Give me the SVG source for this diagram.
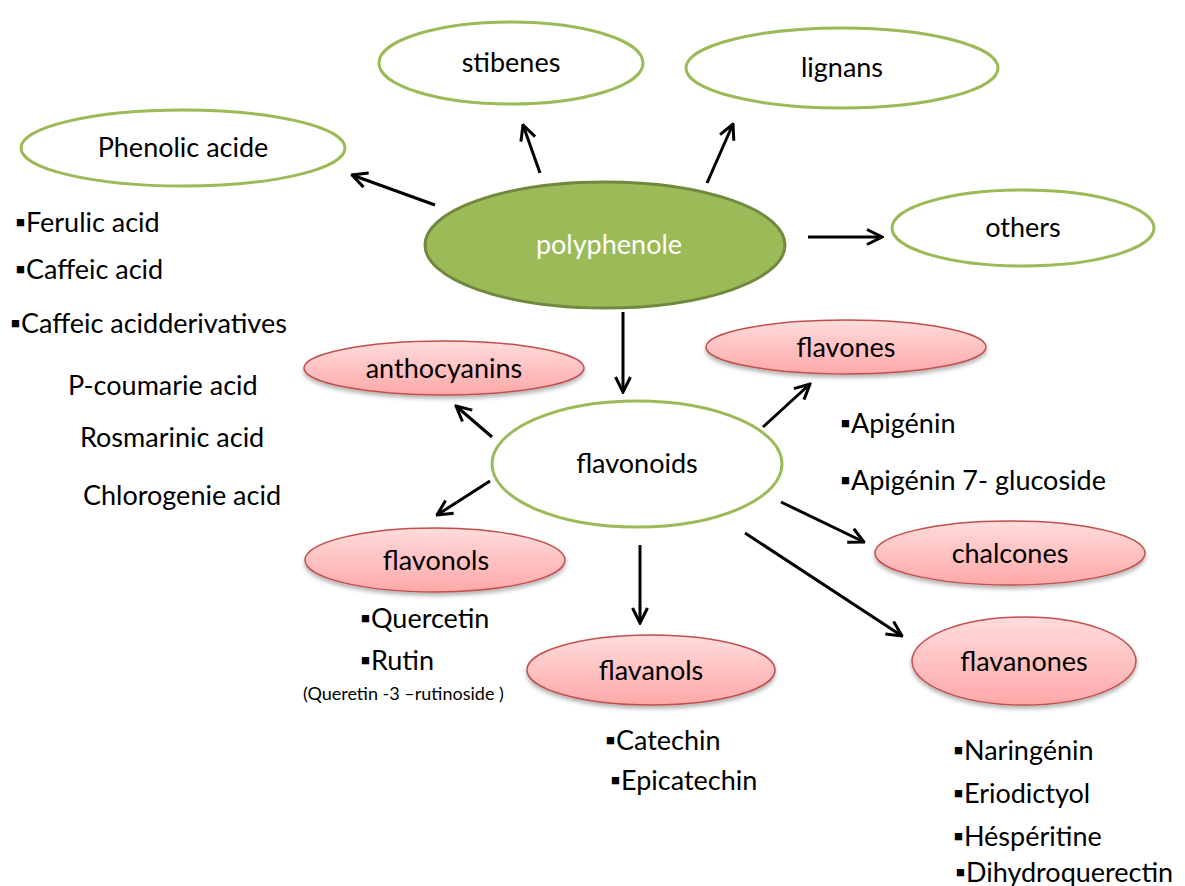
<svg xmlns="http://www.w3.org/2000/svg" width="1185" height="886" viewBox="0 0 1185 886">
<style>
text{font-family:Lato,"Open Sans","Liberation Sans",sans-serif;fill:#000;}
.lbl{font-size:27px;text-anchor:middle;}
.lst{font-size:27px;}
.small{font-size:18px;}
.g{fill:#fff;stroke:#9BBB59;stroke-width:3;}
.p{fill:url(#pink);stroke:#C0504D;stroke-width:1.5;filter:url(#sh);}
.conn line{stroke:#000;stroke-width:3;marker-end:url(#ah);}
</style>
<defs>
<linearGradient id="pink" x1="0" y1="0" x2="0" y2="1">
<stop offset="0" stop-color="#FFDCDC"/>
<stop offset="1" stop-color="#FFA8A8"/>
</linearGradient>
<filter id="sh" x="-10%" y="-20%" width="120%" height="150%">
<feDropShadow dx="0" dy="3" stdDeviation="2" flood-color="#000" flood-opacity="0.3"/>
</filter>
<marker id="ah" viewBox="0 0 12 12" refX="11" refY="6" markerWidth="6" markerHeight="6" orient="auto" markerUnits="strokeWidth">
<polyline points="1,1 11,6 1,11" fill="none" stroke="#000" stroke-width="2"/>
</marker>
</defs>
<g id="connectors" class="conn">
<line x1="435" y1="205" x2="352" y2="175"/>
<line x1="540" y1="173" x2="523" y2="125"/>
<line x1="707" y1="183" x2="733" y2="124"/>
<line x1="808" y1="237" x2="882" y2="237"/>
<line x1="623" y1="312" x2="623" y2="392"/>
<line x1="492" y1="437" x2="456" y2="406"/>
<line x1="763" y1="427" x2="810" y2="384"/>
<line x1="490" y1="481" x2="437" y2="515"/>
<line x1="640" y1="545" x2="640" y2="623"/>
<line x1="781" y1="502" x2="864" y2="542"/>
<line x1="745" y1="533" x2="902" y2="636"/>
</g>
<g id="stibenes"><ellipse class="g" cx="511" cy="63" rx="132" ry="41"/><text class="lbl" x="511" y="72">stibenes</text></g>
<g id="lignans"><ellipse class="g" cx="842" cy="68" rx="156" ry="40"/><text class="lbl" x="842" y="77">lignans</text></g>
<g id="phenolic"><ellipse class="g" cx="183" cy="148" rx="162" ry="38"/><text class="lbl" x="183" y="157">Phenolic acide</text></g>
<g id="others"><ellipse class="g" cx="1023" cy="228" rx="131" ry="38"/><text class="lbl" x="1023" y="237">others</text></g>
<g id="polyphenole"><ellipse cx="605" cy="245" rx="180" ry="63" fill="#9BBB59" stroke="#71893F" stroke-width="3"/><text class="lbl" x="609" y="254" style="fill:#fff">polyphenole</text></g>
<g id="flavonoids"><ellipse class="g" cx="637" cy="464" rx="145" ry="63"/><text class="lbl" x="637" y="473">flavonoids</text></g>
<g id="anthocyanins"><ellipse class="p" cx="444" cy="368" rx="140" ry="27"/><text class="lbl" x="444" y="378">anthocyanins</text></g>
<g id="flavones"><ellipse class="p" cx="846" cy="347" rx="140" ry="27"/><text class="lbl" x="846" y="357">flavones</text></g>
<g id="chalcones"><ellipse class="p" cx="1010" cy="553" rx="135" ry="32"/><text class="lbl" x="1010" y="563">chalcones</text></g>
<g id="flavonols"><ellipse class="p" cx="435" cy="560" rx="130" ry="32"/><text class="lbl" x="436" y="570">flavonols</text></g>
<g id="flavanols"><ellipse class="p" cx="651" cy="670" rx="124" ry="35"/><text class="lbl" x="651" y="680">flavanols</text></g>
<g id="flavanones"><ellipse class="p" cx="1024" cy="661" rx="112" ry="44"/><text class="lbl" x="1024" y="671">flavanones</text></g>
<g id="phenolic-list">
<text class="lst" x="15" y="232">▪Ferulic acid</text>
<text class="lst" x="15" y="279">▪Caffeic acid</text>
<text class="lst" x="10" y="333">▪Caffeic acidderivatives</text>
<text class="lst" x="68" y="395">P-coumarie acid</text>
<text class="lst" x="80" y="447">Rosmarinic acid</text>
<text class="lst" x="83" y="505">Chlorogenie acid</text>
</g>
<g id="flavones-list">
<text class="lst" x="840" y="433">▪Apigénin</text>
<text class="lst" x="840" y="490">▪Apigénin 7- glucoside</text>
</g>
<g id="flavonols-list">
<text class="lst" x="360" y="628">▪Quercetin</text>
<text class="lst" x="360" y="670">▪Rutin</text>
<text class="small" x="303" y="700">(Queretin -3 –rutinoside )</text>
</g>
<g id="flavanols-list">
<text class="lst" x="605" y="750">▪Catechin</text>
<text class="lst" x="610" y="790">▪Epicatechin</text>
</g>
<g id="flavanones-list">
<text class="lst" x="953" y="760">▪Naringénin</text>
<text class="lst" x="953" y="803">▪Eriodictyol</text>
<text class="lst" x="953" y="846">▪Héspéritine</text>
<text class="lst" x="955" y="882">▪Dihydroquerectin</text>
</g>
</svg>
